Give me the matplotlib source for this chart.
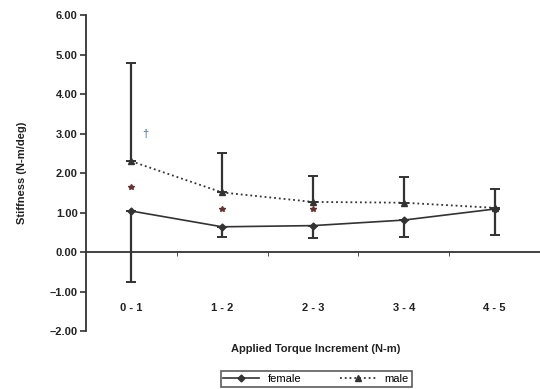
import matplotlib.pyplot as plt
import numpy as np

plt.rcParams['font.family'] = ['Liberation Sans', 'DejaVu Sans']

# Data
increments = ['0 - 1', '1 - 2', '2 - 3', '3 - 4', '4 - 5']
female = [1.04, 0.64, 0.67, 0.81, 1.09]
female_sd = [1.79, 0.25, 0.32, 0.42, 0.66]
male = [2.30, 1.51, 1.27, 1.25, 1.12]
male_sd = [2.48, 1.01, 0.65, 0.64, 0.49]

# significance markers
star_x = [0, 1, 2]
star_y = [1.65, 1.09, 1.09]
dagger_x = [0.16]
dagger_y = [3.0]

fig = plt.figure(figsize=(5.4, 3.89), dpi=100)
ax = fig.add_axes([0.159, 0.149, 0.841, 0.812])

x = np.arange(len(increments))
dark = '#333333'

# error bars: female downwards only, male upwards only
ax.errorbar(x, female, yerr=[female_sd, np.zeros(len(x))], fmt='none',
            ecolor=dark, elinewidth=1.6, capsize=3.5, capthick=1.4)
ax.errorbar(x, male, yerr=[np.zeros(len(x)), male_sd], fmt='none',
            ecolor=dark, elinewidth=1.6, capsize=3.5, capthick=1.4)

ax.plot(x, female, color=dark, linestyle='-', linewidth=1.2, marker='D',
        markersize=3.5, label='female')
ax.plot(x, male, color=dark, linestyle=':', linewidth=1.3, marker='^',
        markersize=5, label='male')

ax.plot(star_x, star_y, linestyle='none', marker='*', markersize=4,
        color='#6a3030')
for dx, dy in zip(dagger_x, dagger_y):
    ax.text(dx, dy, '\u2020', ha='center', va='center', fontsize=8,
            color='#3a6fa0')

ax.set_xlim(-0.5, 4.5)
ax.set_ylim(-2, 6)
ax.set_yticks(np.arange(-2, 7, 1))
ax.set_yticklabels(['%.2f' % v if v >= 0 else '\u2013%.2f' % -v
                    for v in np.arange(-2, 7, 1)],
                   fontsize=8, fontweight='bold', color='#222222')

ax.spines['top'].set_visible(False)
ax.spines['right'].set_visible(False)
ax.spines['bottom'].set_position(('data', 0))
ax.spines['left'].set_linewidth(1.3)
ax.spines['bottom'].set_linewidth(1.3)
ax.spines['left'].set_color(dark)
ax.spines['bottom'].set_color(dark)

ax.set_xticks(x)
ax.set_xticklabels(increments, fontsize=8, fontweight='bold', color='#222222')
ax.tick_params(axis='x', which='major', length=0, pad=37)
ax.set_xticks(np.arange(0.5, 4.5, 1), minor=True)
ax.tick_params(axis='x', which='minor', length=3, direction='out', color=dark)
ax.tick_params(axis='y', length=4, width=1.2, color=dark, pad=2)

ax.set_ylabel('Stiffness (N-m/deg)', fontsize=8, fontweight='bold', color='#222222')
ax.yaxis.set_label_coords(-0.13, 0.5)
ax.set_xlabel('Applied Torque Increment (N-m)', fontsize=8, fontweight='bold', color='#222222')
ax.xaxis.set_label_coords(0.507, -0.04)

leg = ax.legend(loc='center', bbox_to_anchor=(0.507, -0.152), ncol=2,
                frameon=True, fancybox=False, fontsize=8, handlelength=3.2,
                columnspacing=3.5, borderpad=0.25)
leg.get_frame().set_edgecolor(dark)
leg.get_frame().set_linewidth(1.2)

plt.savefig('out.png', dpi=100)
